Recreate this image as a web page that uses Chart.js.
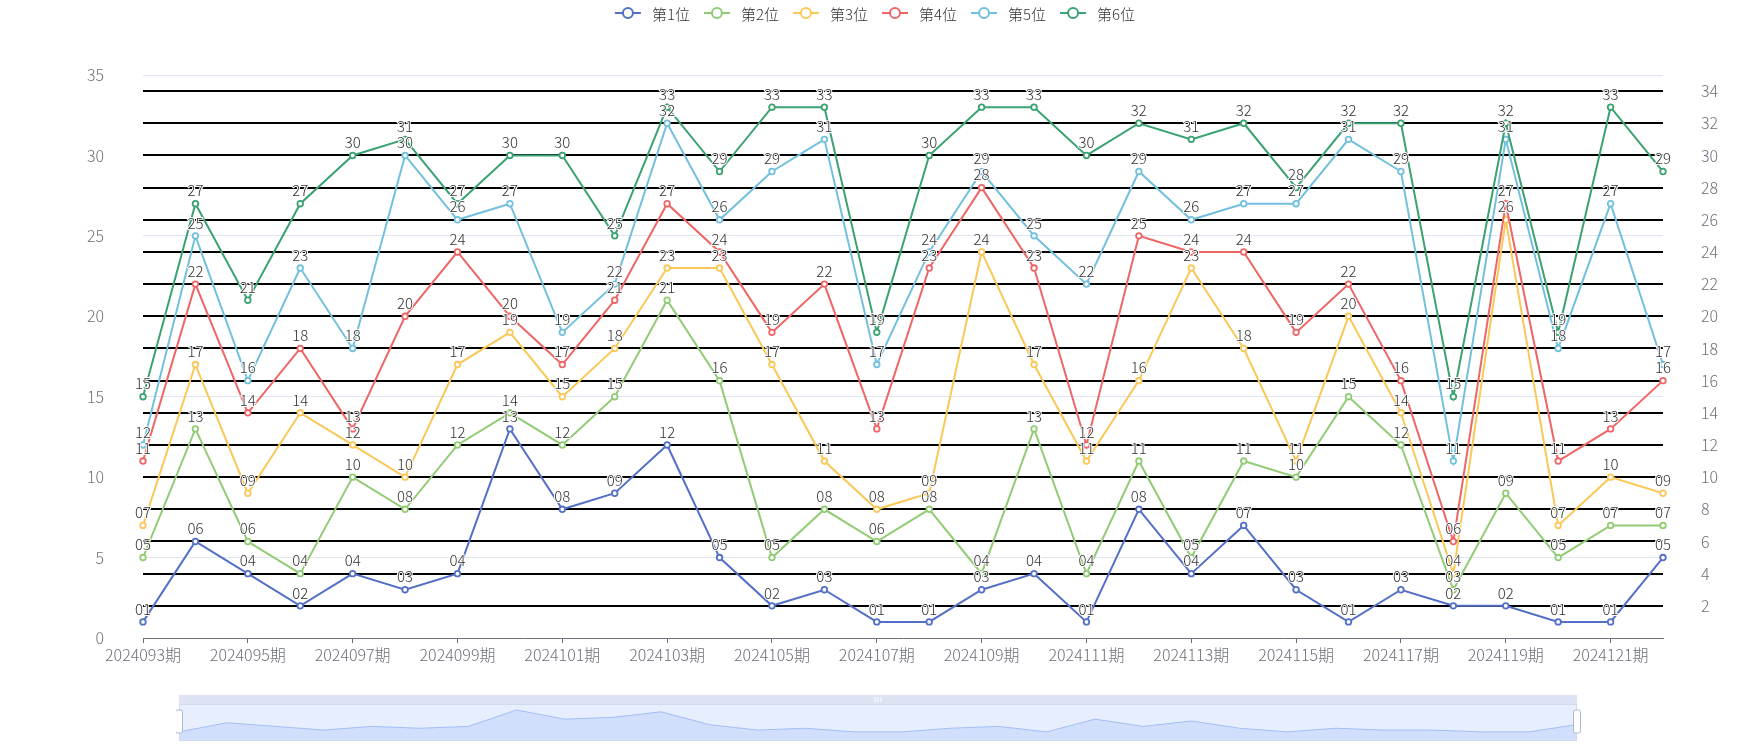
<!DOCTYPE html>
<html>
<head>
<meta charset="utf-8">
<script src="https://cdn.jsdelivr.net/npm/chart.js@4.4.1/dist/chart.umd.min.js"></script>
<style>
  body { margin: 0; background: #fff; }
  #wrap { position: relative; width: 1750px; height: 750px; }
  #main { position: absolute; left: 0; top: 0; }
  #zoom { position: absolute; left: 176px; top: 693px; }
</style>
</head>
<body>
<div id="wrap">
  <canvas id="main" width="1750" height="750"></canvas>
  <canvas id="zoom" width="1406" height="50"></canvas>
</div>
<script>
// periods (x axis)
const periods = ['2024093期', '2024094期', '2024095期', '2024096期', '2024097期', '2024098期',
  '2024099期', '2024100期', '2024101期', '2024102期', '2024103期', '2024104期',
  '2024105期', '2024106期', '2024107期', '2024108期', '2024109期', '2024110期',
  '2024111期', '2024112期', '2024113期', '2024114期', '2024115期', '2024116期',
  '2024117期', '2024118期', '2024119期', '2024120期', '2024121期', '2024122期'];

// numbers by position
const pos1 = [1, 6, 4, 2, 4, 3, 4, 13, 8, 9, 12, 5, 2, 3, 1, 1, 3, 4, 1, 8, 4, 7, 3, 1, 3, 2, 2, 1, 1, 5];
const pos2 = [5, 13, 6, 4, 10, 8, 12, 14, 12, 15, 21, 16, 5, 8, 6, 8, 4, 13, 4, 11, 5, 11, 10, 15, 12, 3, 9, 5, 7, 7];
const pos3 = [7, 17, 9, 14, 12, 10, 17, 19, 15, 18, 23, 23, 17, 11, 8, 9, 24, 17, 11, 16, 23, 18, 11, 20, 14, 4, 26, 7, 10, 9];
const pos4 = [11, 22, 14, 18, 13, 20, 24, 20, 17, 21, 27, 24, 19, 22, 13, 23, 28, 23, 12, 25, 24, 24, 19, 22, 16, 6, 27, 11, 13, 16];
const pos5 = [12, 25, 16, 23, 18, 30, 26, 27, 19, 22, 32, 26, 29, 31, 17, 24, 29, 25, 22, 29, 26, 27, 27, 31, 29, 11, 31, 18, 27, 17];
const pos6 = [15, 27, 21, 27, 30, 31, 27, 30, 30, 25, 33, 29, 33, 33, 19, 30, 33, 33, 30, 32, 31, 32, 28, 32, 32, 15, 32, 19, 33, 29];

const seriesNames = ['第1位', '第2位', '第3位', '第4位', '第5位', '第6位'];
const series = [pos1, pos2, pos3, pos4, pos5, pos6];
const rightTicks = [2, 4, 6, 8, 10, 12, 14, 16, 18, 20, 22, 24, 26, 28, 30, 32, 34];

const colors = ['#5470c6', '#91cc75', '#fac858', '#ee6666', '#73c0de', '#3ba272'];
const FONT = "'Noto Sans CJK SC', 'Noto Sans', sans-serif";
const axisFont = { family: FONT, size: 16, weight: 300 };

// legend drawn by hand: line + hollow circle, centered on top
const legendPlugin = {
  id: 'topLegend',
  afterDraw(chart) {
    const ctx = chart.ctx;
    ctx.save();
    ctx.font = '300 15px ' + FONT;
    const iconW = 26, gap = 11, itemGap = 14;
    const widths = seriesNames.map(n => iconW + gap + ctx.measureText(n).width);
    const total = widths.reduce((a, b) => a + b, 0) + itemGap * (widths.length - 1);
    let x = chart.width / 2 - total / 2;
    const y = 13;
    seriesNames.forEach((n, i) => {
      ctx.strokeStyle = colors[i];
      ctx.lineWidth = 2;
      ctx.beginPath();
      ctx.moveTo(x, y);
      ctx.lineTo(x + iconW, y);
      ctx.stroke();
      ctx.beginPath();
      ctx.arc(x + iconW / 2, y, 5, 0, Math.PI * 2);
      ctx.fillStyle = '#fff';
      ctx.fill();
      ctx.stroke();
      ctx.fillStyle = '#333';
      ctx.textBaseline = 'middle';
      ctx.textAlign = 'left';
      ctx.fillText(n, x + iconW + gap, y + 1);
      x += widths[i] + itemGap;
    });
    ctx.restore();
  }
};

// value labels above each point
const labelPlugin = {
  id: 'pointLabels',
  afterDatasetsDraw(chart) {
    const ctx = chart.ctx;
    ctx.save();
    ctx.font = '300 15px ' + FONT;
    ctx.textAlign = 'center';
    ctx.textBaseline = 'middle';
    ctx.lineWidth = 2;
    ctx.strokeStyle = '#fff';
    ctx.fillStyle = '#333';
    chart.data.datasets.forEach((ds, i) => {
      chart.getDatasetMeta(i).data.forEach((pt, j) => {
        const txt = String(ds.data[j]).padStart(2, '0');
        ctx.strokeText(txt, pt.x, pt.y - 13);
        ctx.fillText(txt, pt.x, pt.y - 13);
      });
    });
    ctx.restore();
  }
};

new Chart(document.getElementById('main'), {
  type: 'line',
  data: {
    labels: periods,
    datasets: series.map((d, i) => ({
      label: seriesNames[i],
      data: d,
      yAxisID: 'y',
      borderColor: colors[i],
      backgroundColor: '#fff',
      pointBorderColor: colors[i],
      pointBackgroundColor: '#fff',
      borderWidth: 2,
      pointRadius: 2.8,
      pointBorderWidth: 1.8,
      tension: 0,
      fill: false,
      order: 5 - i
    }))
  },
  options: {
    responsive: false,
    animation: false,
    layout: { padding: { top: 75, left: 0, right: 0, bottom: 0 }, autoPadding: false },
    plugins: {
      legend: { display: false },
      tooltip: { enabled: false }
    },
    scales: {
      x: {
        type: 'category',
        offset: false,
        grid: {
          drawOnChartArea: false,
          tickLength: 5,
          color: c => c.index % 2 === 0 ? '#6E7079' : 'rgba(0,0,0,0)'
        },
        border: { color: '#6E7079' },
        ticks: {
          autoSkip: false,
          maxRotation: 0,
          padding: 2,
          color: '#6E7079',
          font: axisFont,
          callback: (v, i) => i % 2 === 0 ? periods[i] : ''
        },
        afterFit: s => { s.height = 112; }
      },
      y: {
        position: 'left',
        min: 0,
        max: 35,
        ticks: { stepSize: 5, padding: 39, color: '#6E7079', font: axisFont },
        grid: {
          drawTicks: false,
          color: c => c.tick.value % 10 === 0 ? 'rgba(0,0,0,0)' : '#E0E6F1'
        },
        border: { display: false },
        afterFit: s => { s.width = 143; }
      },
      y1: {
        position: 'right',
        min: 0,
        max: 35,
        afterBuildTicks: s => { s.ticks = rightTicks.map(v => ({ value: v })); },
        ticks: { padding: 38, color: '#6E7079', font: axisFont },
        grid: { drawTicks: false, color: '#000', lineWidth: 2 },
        border: { display: false },
        afterFit: s => { s.width = 87; }
      }
    }
  },
  plugins: [legendPlugin, labelPlugin]
});

// bottom data-zoom slider look-alike
const sliderFrame = {
  id: 'sliderFrame',
  beforeDatasetsDraw(chart) {
    const { ctx, chartArea: a } = chart;
    ctx.save();
    ctx.fillStyle = '#e7efff';
    ctx.fillRect(a.left, a.top, a.right - a.left, a.bottom - a.top);
    ctx.fillStyle = '#dde3f2';
    ctx.fillRect(a.left, a.top - 9, a.right - a.left, 9);
    ctx.fillStyle = '#fff';
    const mid = (a.left + a.right) / 2;
    [-3, 0, 3].forEach(dx => ctx.fillRect(mid + dx - 0.5, a.top - 7, 1, 5));
    ctx.restore();
  },
  afterDraw(chart) {
    const { ctx, chartArea: a } = chart;
    ctx.save();
    ctx.strokeStyle = '#d2dbee';
    ctx.lineWidth = 1;
    ctx.strokeRect(a.left + 0.5, a.top + 0.5, a.right - a.left - 1, a.bottom - a.top - 1);
    ctx.strokeStyle = '#acb8d1';
    ctx.fillStyle = '#fff';
    [a.left, a.right].forEach(x => {
      ctx.beginPath();
      ctx.roundRect(x - 3.5, a.top + 6, 7, 23, 2);
      ctx.fill();
      ctx.stroke();
    });
    ctx.restore();
  }
};

new Chart(document.getElementById('zoom'), {
  type: 'line',
  data: {
    labels: periods,
    datasets: [{
      data: pos1,
      borderColor: '#a3bdf5',
      borderWidth: 1,
      backgroundColor: 'rgba(143,176,247,0.25)',
      fill: 'start',
      pointRadius: 0,
      tension: 0
    }]
  },
  options: {
    responsive: false,
    animation: false,
    layout: { padding: { left: 3, right: 5, top: 11, bottom: 2 }, autoPadding: false },
    plugins: { legend: { display: false }, tooltip: { enabled: false } },
    scales: {
      x: { display: false, offset: false },
      y: { display: false, min: -4, max: 16.3 }
    }
  },
  plugins: [sliderFrame]
});
</script>
</body>
</html>
